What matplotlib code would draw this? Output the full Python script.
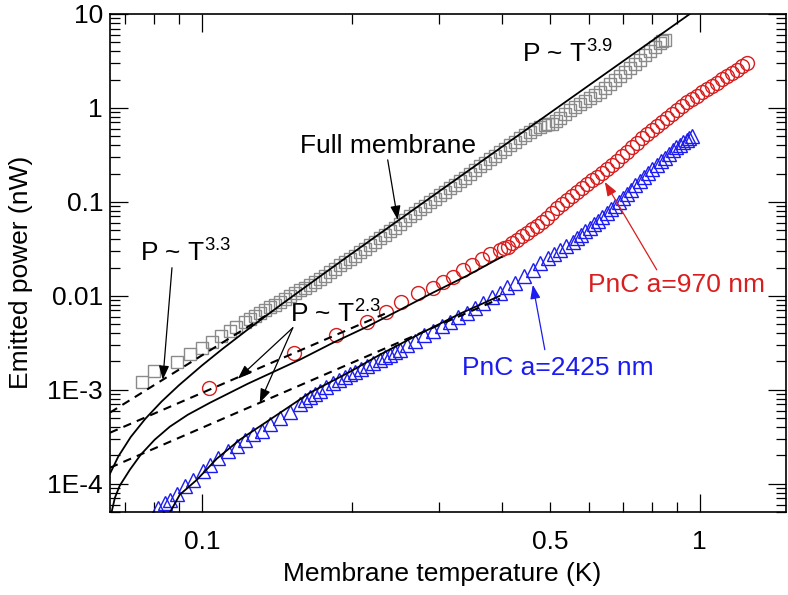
import matplotlib
matplotlib.use('Agg')
import matplotlib.pyplot as plt

plt.rcParams['font.family'] = ['Liberation Sans', 'DejaVu Sans']
plt.rcParams['mathtext.default'] = 'regular'

# Full membrane (gray squares)
T_full = [0.0758, 0.0801, 0.0891, 0.0946, 0.100, 0.1047, 0.1092, 0.1138, 0.1170, 0.1220,
          0.1249, 0.1278, 0.1308, 0.1338, 0.1370, 0.1402, 0.1435, 0.1468, 0.1502, 0.1537,
          0.1574, 0.1610, 0.1648, 0.1686, 0.1726, 0.1766, 0.1808, 0.1850, 0.1894, 0.1937,
          0.1983, 0.2029, 0.2077, 0.2125, 0.2176, 0.2226, 0.2279, 0.2331, 0.2386, 0.2441,
          0.2499, 0.2557, 0.2618, 0.2678, 0.2742, 0.2805, 0.2871, 0.2937, 0.3007, 0.3076,
          0.3149, 0.3221, 0.3298, 0.3374, 0.3454, 0.3533, 0.3617, 0.3700, 0.3788, 0.3876,
          0.3968, 0.4059, 0.4155, 0.4251, 0.4352, 0.4452, 0.4558, 0.4663, 0.4774, 0.4884,
          0.4964, 0.5043, 0.5139, 0.5235, 0.5359, 0.5482, 0.5612, 0.5742, 0.5878, 0.6013,
          0.6156, 0.6298, 0.6447, 0.6596, 0.6752, 0.6908, 0.7071, 0.7234, 0.7406, 0.7578,
          0.7758, 0.7937, 0.8125, 0.8312, 0.8408, 0.8504]
P_full = [1.22e-3, 1.59e-3, 1.99e-3, 2.42e-3, 2.80e-3, 3.24e-3, 3.75e-3, 4.25e-3, 4.68e-3, 5.29e-3,
          5.71e-3, 6.13e-3, 6.62e-3, 7.10e-3, 7.56e-3, 8.02e-3, 8.66e-3, 9.29e-3, 0.01005, 0.0108,
          0.0115, 0.0122, 0.01315, 0.0141, 0.0152, 0.0163, 0.01785, 0.0194, 0.0212, 0.0230,
          0.02485, 0.0267, 0.02915, 0.0316, 0.03455, 0.0375, 0.041, 0.0445, 0.0487, 0.0529,
          0.05865, 0.0644, 0.0704, 0.0764, 0.0835, 0.0906, 0.0993, 0.108, 0.118, 0.128,
          0.140, 0.152, 0.166, 0.180, 0.1995, 0.219, 0.2395, 0.260, 0.2845, 0.309,
          0.3375, 0.366, 0.4005, 0.435, 0.4755, 0.516, 0.557, 0.598, 0.6285, 0.659,
          0.667, 0.676, 0.7295, 0.783, 0.8675, 0.952, 1.026, 1.10, 1.19, 1.28,
          1.38, 1.48, 1.64, 1.80, 1.995, 2.19, 2.425, 2.66, 2.95, 3.24,
          3.64, 4.04, 4.475, 4.91, 5.10, 5.29]

# PnC a=970 nm (red circles)
T_970 = [0.1033, 0.1530, 0.1858, 0.2145, 0.2342, 0.2510, 0.2715, 0.2910, 0.3048, 0.3192,
         0.3343, 0.3484, 0.3649, 0.3788, 0.3967, 0.4042, 0.4116, 0.4204, 0.4291, 0.4393,
         0.4494, 0.4601, 0.4707, 0.4819, 0.4930, 0.5047, 0.5164, 0.5286, 0.5408, 0.5536,
         0.5663, 0.5797, 0.5931, 0.6071, 0.6211, 0.6358, 0.6505, 0.6659, 0.6813, 0.6974,
         0.7135, 0.7304, 0.7472, 0.7649, 0.7825, 0.8011, 0.8196, 0.8390, 0.8584, 0.8787,
         0.8990, 0.9204, 0.9417, 0.9640, 0.9862, 1.0096, 1.033, 1.0575, 1.082, 1.1075,
         1.133, 1.160, 1.187, 1.215, 1.243]
P_970 = [1.05e-3, 2.48e-3, 3.85e-3, 5.29e-3, 6.76e-3, 8.63e-3, 0.0108, 0.0122, 0.0141, 0.0159,
         0.0189, 0.0214, 0.0248, 0.0280, 0.0309, 0.03205, 0.0332, 0.0363, 0.0394, 0.0431,
         0.0468, 0.0512, 0.0556, 0.0616, 0.0676, 0.07695, 0.0863, 0.0957, 0.105, 0.1165,
         0.128, 0.1415, 0.155, 0.170, 0.185, 0.2045, 0.224, 0.2485, 0.273, 0.3065,
         0.340, 0.382, 0.424, 0.4765, 0.529, 0.5865, 0.644, 0.7135, 0.783, 0.8675,
         0.952, 1.056, 1.16, 1.25, 1.34, 1.465, 1.59, 1.72, 1.85, 2.02,
         2.19, 2.365, 2.54, 2.775, 3.01]

# PnC a=2425 nm (blue triangles)
T_2425 = [0.0816, 0.0843, 0.0862, 0.0891, 0.0924, 0.0959, 0.1005, 0.1038, 0.1077, 0.1128,
          0.1176, 0.1220, 0.1266, 0.1319, 0.1369, 0.1434, 0.1502,
          0.1573, 0.1611, 0.1648, 0.1687, 0.1725, 0.1779, 0.1833, 0.1885, 0.1937, 0.1983,
          0.2029, 0.2087, 0.2145, 0.2211, 0.2277, 0.2331, 0.2385, 0.2442, 0.2498, 0.2588,
          0.2678, 0.2794, 0.2910, 0.3029, 0.3148, 0.3276, 0.3404, 0.3535, 0.3666, 0.3817,
          0.3967, 0.4109, 0.4251, 0.4436, 0.4620, 0.4786, 0.4952, 0.5094, 0.5235, 0.5397,
          0.5559, 0.5664, 0.5768, 0.5891, 0.6013, 0.6126, 0.6239, 0.6372, 0.6505, 0.6629,
          0.6753, 0.6879, 0.7004, 0.7138, 0.7272, 0.7425, 0.7578, 0.7721, 0.7863, 0.8030,
          0.8196, 0.8350, 0.8504, 0.8665, 0.8826, 0.8972, 0.9117, 0.9267, 0.9417, 0.9527,
          0.9636]
P_2425 = [5.56e-5, 6.28e-5, 6.76e-5, 7.83e-5, 9.52e-5, 1.10e-4, 1.37e-4, 1.59e-4, 1.89e-4, 2.24e-4,
          2.54e-4, 2.94e-4, 3.40e-4, 3.66e-4, 4.35e-4, 5.04e-4, 5.83e-4,
          7.10e-4, 7.77e-4, 8.43e-4, 9.10e-4, 9.76e-4, 1.08e-3, 1.19e-3, 1.28e-3, 1.37e-3, 1.46e-3,
          1.55e-3, 1.675e-3, 1.80e-3, 1.945e-3, 2.09e-3, 2.225e-3, 2.36e-3, 2.515e-3, 2.67e-3, 2.995e-3,
          3.32e-3, 3.785e-3, 4.25e-3, 4.77e-3, 5.29e-3, 5.94e-3, 6.59e-3, 7.51e-3, 8.43e-3, 9.615e-3,
          0.0108, 0.0123, 0.0138, 0.01635, 0.0189, 0.02215, 0.0254, 0.02815, 0.0309, 0.0342,
          0.0375, 0.041, 0.0445, 0.0487, 0.0529, 0.05785, 0.0628, 0.0696, 0.0764, 0.0835,
          0.0906, 0.1003, 0.110, 0.122, 0.134, 0.1505, 0.167, 0.185, 0.203, 0.2255,
          0.248, 0.271, 0.294, 0.3255, 0.357, 0.3805, 0.404, 0.4305, 0.457, 0.4805,
          0.504]

# fitted curves (solid)
T_fit_full = [0.0654, 0.068, 0.072, 0.077, 0.083, 0.09, 0.1, 0.11, 0.125, 0.145,
              0.17, 0.2, 0.25, 0.32, 0.4, 0.5, 0.6, 0.7, 0.8, 0.9, 0.96]
P_fit_full = [1.28e-4, 1.96e-4, 3.15e-4, 4.91e-4, 7.49e-4, 1.12e-3, 1.81e-3, 2.72e-3, 4.58e-3, 8.22e-3,
              0.01516, 0.02815, 0.0654, 0.1656, 0.3829, 0.8838, 1.752, 3.121, 5.150, 8.010, 10.20]

T_fit_970 = [0.0657, 0.0669, 0.0684, 0.0717, 0.0754, 0.0804, 0.0862, 0.0937, 0.1038, 0.1237,
             0.1573, 0.1833, 0.2145, 0.2498, 0.2910, 0.3404, 0.4003]
P_fit_970 = [4.68e-5, 7.10e-5, 9.52e-5, 1.41e-4, 2.04e-4, 2.94e-4, 4.04e-4, 5.42e-4, 7.27e-4, 1.16e-3,
             2.09e-3, 3.16e-3, 4.68e-3, 7.08e-3, 0.0108, 0.0163, 0.0260]

T_fit_2425 = [0.0862, 0.0903, 0.0977, 0.1072, 0.1192, 0.1369, 0.1648, 0.1982, 0.2277, 0.2740,
              0.3297, 0.3967]
P_fit_2425 = [4.91e-5, 7.64e-5, 1.10e-4, 1.85e-4, 2.94e-4, 4.80e-4, 9.29e-4, 1.55e-3, 2.36e-3, 3.94e-3,
              6.44e-3, 0.0100]

# power laws (dashed)
T_pow33 = [0.0654, 0.137]
P_pow33 = [5.72e-4, 6.55e-3]
T_pow23_970 = [0.0654, 0.233]
P_pow23_970 = [3.49e-4, 6.44e-3]
T_pow23_2425 = [0.0654, 0.3967]
P_pow23_2425 = [1.48e-4, 9.33e-3]

gray = '#8a8a8a'
red = '#d81e1e'
blue = '#1c1cf0'
fs = 19

fig = plt.figure(figsize=(7.88, 5.95), dpi=100)
ax = fig.add_axes([0.1396, 0.1395, 0.8579, 0.837])
ax.set_xscale('log')
ax.set_yscale('log')

ax.plot(T_full, P_full, ls='none', marker='s', ms=8, mfc='none', mec=gray, mew=1.0)
ax.plot(T_970, P_970, ls='none', marker='o', ms=10, mfc='none', mec=red, mew=1.0)
ax.plot(T_2425, P_2425, ls='none', marker='^', ms=10, mfc='none', mec=blue, mew=1.0)

for T, P in [(T_fit_full, P_fit_full), (T_fit_970, P_fit_970), (T_fit_2425, P_fit_2425)]:
    ax.plot(T, P, color='k', lw=1.3, zorder=5)
for T, P in [(T_pow33, P_pow33), (T_pow23_970, P_pow23_970), (T_pow23_2425, P_pow23_2425)]:
    ax.plot(T, P, color='k', lw=1.5, ls=(0, (4, 3)), zorder=5)

ax.set_xlim(0.0654, 1.49)
ax.set_ylim(5.04e-5, 10)

ax.set_xticks([0.1, 1])
ax.set_xticklabels(['0.1', '1'])
xminor = [0.07, 0.08, 0.09, 0.2, 0.3, 0.4, 0.5, 0.6, 0.7, 0.8, 0.9]
ax.set_xticks(xminor, minor=True)
ax.set_xticklabels(['0.5' if v == 0.5 else '' for v in xminor], minor=True)

ydec = [1e-4, 1e-3, 1e-2, 0.1, 1, 10]
ax.set_yticks(ydec)
ax.set_yticklabels(['1E-4', '1E-3', '0.01', '0.1', '1', '10'])
yminor = [m * d for d in [1e-5, 1e-4, 1e-3, 1e-2, 0.1, 1] for m in range(2, 10)]
yminor = [v for v in yminor if 5e-5 <= v <= 10]
ax.set_yticks(yminor, minor=True)
ax.set_yticklabels([], minor=True)

ax.tick_params(which='both', direction='in', top=True, right=True, width=0.9, labelsize=fs)
ax.tick_params(which='major', length=13)
ax.tick_params(which='minor', length=7)
ax.tick_params(axis='x', which='both', pad=13)
ax.tick_params(axis='y', which='both', pad=5)
for s in ax.spines.values():
    s.set_linewidth(1.2)

fig.text(21 / 788, 1 - 272 / 595, 'Emitted power (nW)', rotation=90,
         ha='center', va='center', fontsize=fs)
fig.text(442 / 788, 1 - 574 / 595, 'Membrane temperature (K)',
         ha='center', va='center', fontsize=fs)

arrow = dict(arrowstyle='-|>,head_length=0.6,head_width=0.22', color='k', lw=0.9,
             shrinkA=0, shrinkB=0, mutation_scale=14)

ax.text(0.2362, 0.332, 'Full membrane', fontsize=fs, ha='center', va='baseline')
ax.annotate('', xy=(0.2474, 0.0644), xytext=(0.2362, 0.280), arrowprops=arrow)

ax.text(0.4391, 3.01, 'P ~ $T^{3.9}$', fontsize=fs, ha='left', va='baseline')

ax.text(0.0751, 0.0230, 'P ~ $T^{3.3}$', fontsize=fs, ha='left', va='baseline')
ax.annotate('', xy=(0.0835, 1.28e-3), xytext=(0.0871, 0.0199), arrowprops=arrow)

ax.text(0.1502, 5.16e-3, 'P ~ $T^{2.3}$', fontsize=fs, ha='left', va='baseline', zorder=1)
ax.annotate('', xy=(0.1181, 1.31e-3), xytext=(0.1523, 4.57e-3), arrowprops=arrow)
ax.annotate('', xy=(0.1307, 7.27e-4), xytext=(0.1523, 4.57e-3), arrowprops=arrow)

ax.text(0.5957, 0.0110, 'PnC a=970 nm', fontsize=fs, color=red, ha='left', va='baseline')
ax.annotate('', xy=(0.6445, 0.163), xytext=(0.8196, 0.0189),
            arrowprops=dict(arrow, color=red))

ax.text(0.3327, 1.44e-3, 'PnC a=2425 nm', fontsize=fs, color=blue, ha='left', va='baseline')
ax.annotate('', xy=(0.4620, 0.0131), xytext=(0.4884, 2.67e-3),
            arrowprops=dict(arrow, color=blue))

fig.savefig('out.png', dpi=100)
